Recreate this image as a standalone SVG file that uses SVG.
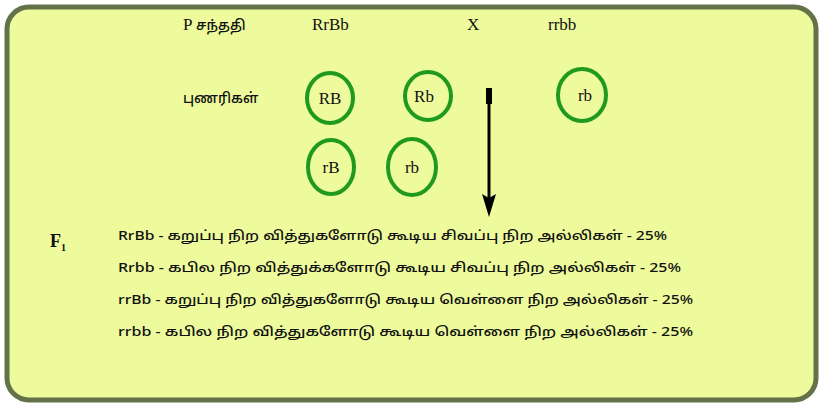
<svg xmlns="http://www.w3.org/2000/svg" width="823" height="407" viewBox="0 0 823 407">
<defs>
<style>
.bg{fill:#eefb9c;stroke:#637248;stroke-width:5}
.ser{font-family:"Liberation Serif","Noto Sans Tamil","Noto Serif Tamil",serif;font-size:17px;fill:#111}
.tam{font-family:"Noto Sans Tamil","Lohit Tamil","Liberation Sans",sans-serif;font-size:13px;fill:#111;font-weight:500}
.g{fill:none;stroke:#1f9a1f;stroke-width:4}
.arr{stroke:#000;stroke-width:3;fill:none}
</style>
</defs>
<rect class="bg" x="7" y="7" width="809" height="393" rx="22" ry="22"/>
<g id="header">
<text class="ser" x="183" y="30">P <tspan class="tam" style="font-size:14px">சந்ததி</tspan></text>
<text class="ser" x="312" y="30">RrBb</text>
<text class="ser" x="467" y="30">X</text>
<text class="ser" x="548" y="30">rrbb</text>
<text class="tam" x="183" y="103" style="font-size:14px">புணரிகள்</text>
</g>
<g id="g-RB"><ellipse class="g" cx="330" cy="98" rx="23" ry="25"/><text class="ser" x="330" y="104" text-anchor="middle">RB</text></g>
<g id="g-Rb"><ellipse class="g" cx="428" cy="96" rx="23" ry="24"/><text class="ser" x="424" y="102" text-anchor="middle">Rb</text></g>
<g id="g-rB"><ellipse class="g" cx="331" cy="167" rx="23" ry="27"/><text class="ser" x="331" y="173" text-anchor="middle">rB</text></g>
<g id="g-rb1"><ellipse class="g" cx="412" cy="167" rx="24" ry="28"/><text class="ser" x="412" y="173" text-anchor="middle">rb</text></g>
<g id="g-rb2"><ellipse class="g" cx="582" cy="95" rx="24" ry="26"/><text class="ser" x="585" y="101" text-anchor="middle">rb</text></g>
<g id="connectors">
<line class="arr" x1="489" y1="88" x2="489" y2="200"/>
<rect x="486" y="88" width="6" height="16" fill="#000"/>
<path d="M482,194 L489,198 L496,194 L489,217 Z" fill="#000"/>
</g>
<g id="f1">
<text class="ser" x="50" y="247" style="font-weight:bold;font-size:18px">F<tspan font-size="10" dy="4">1</tspan></text>
<text class="tam" x="118" y="240" textLength="549" lengthAdjust="spacingAndGlyphs">RrBb - கறுப்பு நிற வித்துகளோடு கூடிய சிவப்பு நிற அல்லிகள் - 25%</text>
<text class="tam" x="118" y="272" textLength="563" lengthAdjust="spacingAndGlyphs">Rrbb - கபில நிற வித்துக்களோடு கூடிய சிவப்பு நிற அல்லிகள் - 25%</text>
<text class="tam" x="118" y="304" textLength="575" lengthAdjust="spacingAndGlyphs">rrBb - கறுப்பு நிற வித்துகளோடு கூடிய வெள்ளை நிற அல்லிகள் - 25%</text>
<text class="tam" x="118" y="336" textLength="575" lengthAdjust="spacingAndGlyphs">rrbb - கபில நிற வித்துகளோடு கூடிய வெள்ளை நிற அல்லிகள் - 25%</text>
</g>
</svg>
